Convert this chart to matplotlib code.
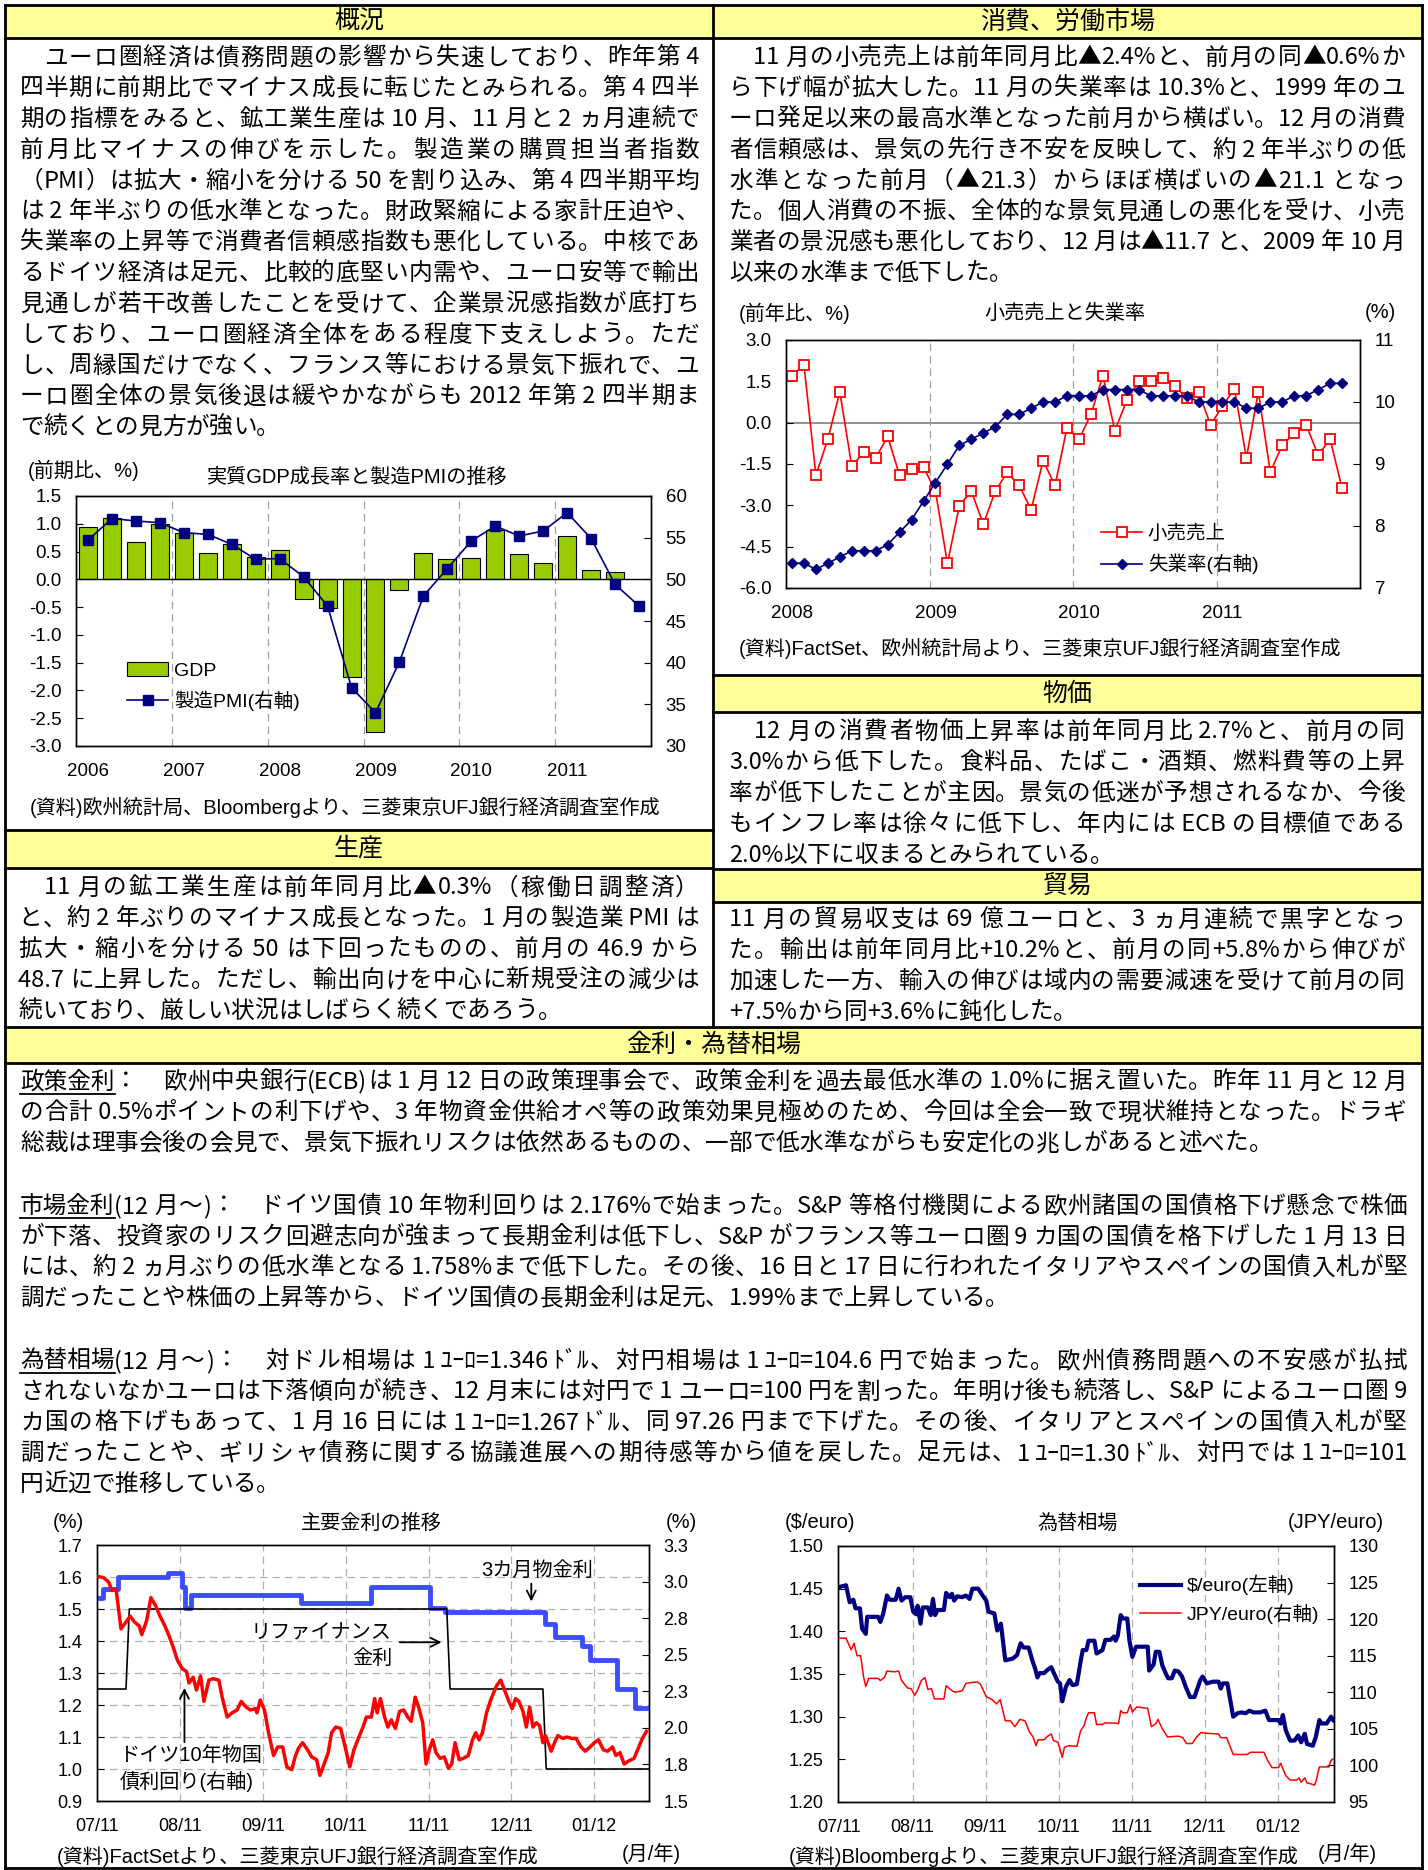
import matplotlib
matplotlib.use('Agg')
import matplotlib.pyplot as plt
import numpy as np
from matplotlib.transforms import Affine2D
from matplotlib.lines import Line2D
from matplotlib.patches import Rectangle, Patch

plt.rcParams['font.family'] = ['Liberation Sans', 'Noto Sans CJK JP']
plt.rcParams['axes.unicode_minus'] = False

W, H = 1428, 1870
JP = ['Noto Sans CJK JP', 'DejaVu Sans']
BODY = 17
CHART_TXT = 14.5

# ---------------- data ----------------
# real GDP q/q (%) and manufacturing PMI, quarterly 2006Q1-2011Q4
gdp_years = ['2006', '2007', '2008', '2009', '2010', '2011']
gdp = [0.94, 1.10, 0.68, 0.99, 0.83, 0.47, 0.63, 0.40, 0.52, -0.36, -0.52, -1.76,
       -2.74, -0.20, 0.47, 0.37, 0.39, 0.88, 0.45, 0.29, 0.78, 0.16, 0.13]
pmi = [54.7, 57.3, 57.0, 56.8, 55.6, 55.4, 54.2, 52.4, 52.5, 50.3, 46.8, 37.0,
       34.0, 40.1, 48.0, 51.3, 54.6, 56.4, 55.2, 55.8, 58.0, 54.9, 49.4, 46.8]

# retail sales y/y (%) and unemployment rate (%), monthly Jan 2008 - Nov 2011
ret_years = ['2008', '2009', '2010', '2011']
retail = [1.70, 2.11, -1.91, -0.60, 1.12, -1.59, -1.07, -1.28, -0.50, -1.91, -1.69, -1.61,
          -2.49, -5.11, -3.01, -2.49, -3.68, -2.49, -1.80, -2.28, -3.16, -1.38, -2.28, -0.18,
          -0.60, 0.30, 1.70, -0.29, 0.81, 1.50, 1.50, 1.61, 1.33, 0.89, 1.12, -0.08,
          0.60, 1.23, -1.28, 1.12, -1.80, -0.81, -0.39, -0.08, -1.18, -0.60, -2.38]
unemp = [7.4, 7.4, 7.3, 7.4, 7.5, 7.6, 7.6, 7.6, 7.7, 7.9, 8.1, 8.4,
         8.7, 9.0, 9.3, 9.4, 9.5, 9.6, 9.8, 9.8, 9.9, 10.0, 10.0, 10.1,
         10.1, 10.1, 10.2, 10.2, 10.2, 10.2, 10.1, 10.1, 10.1, 10.1, 10.0, 10.0,
         10.0, 10.0, 9.9, 9.9, 10.0, 10.0, 10.1, 10.1, 10.2, 10.3, 10.3]

# daily series, x = months elapsed since 1 Jul 2011
month_labels = ['07/11', '08/11', '09/11', '10/11', '11/11', '12/11', '01/12']
rate_end = 6.66
m3_x = [0.00, 0.07, 0.25, 0.86, 1.03, 1.06, 1.13, 2.46, 3.31, 4.02, 4.20, 5.40,
        5.53, 5.85, 5.95, 6.27, 6.49, 6.66]
m3_v = [1.533, 1.563, 1.601, 1.611, 1.57, 1.502, 1.544, 1.52, 1.57, 1.502, 1.49, 1.452,
        1.411, 1.385, 1.34, 1.25, 1.19, 1.19]
refi_x = [0.00, 0.35, 0.39, 4.22, 4.26, 5.38, 5.42, 6.66]
refi_v = [1.25, 1.25, 1.50, 1.50, 1.25, 1.25, 1.00, 1.00]
bund_x = [0.00, 0.08, 0.14, 0.18, 0.23, 0.29, 0.34, 0.40, 0.45, 0.51,
          0.54, 0.60, 0.65, 0.71, 0.76, 0.82, 0.87, 0.92, 0.97, 1.03,
          1.08, 1.11, 1.16, 1.20, 1.25, 1.29, 1.35, 1.40, 1.47, 1.51,
          1.57, 1.63, 1.69, 1.74, 1.80, 1.85, 1.91, 1.93, 1.97, 2.02,
          2.07, 2.13, 2.18, 2.24, 2.29, 2.35, 2.39, 2.43, 2.48, 2.54,
          2.59, 2.65, 2.69, 2.74, 2.79, 2.83, 2.88, 2.94, 2.99, 3.05,
          3.10, 3.16, 3.21, 3.25, 3.31, 3.35, 3.38, 3.42, 3.47, 3.51,
          3.55, 3.60, 3.65, 3.70, 3.75, 3.79, 3.84, 3.88, 3.93, 3.97,
          4.01, 4.05, 4.09, 4.14, 4.19, 4.24, 4.28, 4.32, 4.37, 4.42,
          4.48, 4.53, 4.57, 4.61, 4.65, 4.70, 4.75, 4.82, 4.87, 4.93,
          4.97, 5.01, 5.05, 5.09, 5.14, 5.18, 5.22, 5.26, 5.30, 5.34,
          5.38, 5.41, 5.48, 5.52, 5.56, 5.62, 5.67, 5.73, 5.78, 5.84,
          5.89, 5.95, 6.00, 6.05, 6.11, 6.16, 6.22, 6.26, 6.31, 6.36,
          6.41, 6.48, 6.53, 6.58, 6.63]
bund_v = [3.08, 3.07, 3.04, 2.98, 2.99, 2.71, 2.75, 2.80, 2.76, 2.73,
          2.67, 2.77, 2.93, 2.87, 2.80, 2.73, 2.66, 2.58, 2.49, 2.43,
          2.41, 2.33, 2.37, 2.28, 2.38, 2.20, 2.35, 2.36, 2.35, 2.23,
          2.09, 2.12, 2.14, 2.20, 2.16, 2.14, 2.15, 2.12, 2.21, 2.14,
          1.98, 1.82, 1.88, 1.88, 1.74, 1.72, 1.81, 1.87, 1.91, 1.86,
          1.81, 1.79, 1.68, 1.76, 1.84, 1.98, 2.02, 2.01, 1.89, 1.74,
          1.86, 1.95, 2.02, 2.09, 2.09, 2.22, 2.12, 2.22, 2.09, 2.02,
          2.07, 2.01, 2.13, 2.14, 2.09, 2.06, 2.23, 2.16, 2.05, 1.76,
          1.86, 1.93, 1.84, 1.80, 1.81, 1.73, 1.76, 1.91, 1.79, 1.80,
          1.82, 1.93, 1.98, 1.93, 1.98, 2.12, 2.21, 2.31, 2.35, 2.26,
          2.20, 2.15, 2.22, 2.20, 2.13, 2.02, 2.16, 2.02, 2.05, 2.03,
          1.91, 1.96, 1.85, 1.91, 1.96, 1.94, 1.95, 1.94, 1.94, 1.88,
          1.85, 1.88, 1.91, 1.93, 1.86, 1.85, 1.88, 1.82, 1.84, 1.76,
          1.78, 1.80, 1.87, 1.94, 1.99]

fx_end = 6.77
usd_x = [0.00, 0.09, 0.14, 0.19, 0.22, 0.28, 0.31, 0.36, 0.38, 0.53,
         0.56, 0.60, 0.65, 0.69, 0.77, 0.81, 0.85, 0.90, 0.97, 1.01,
         1.05, 1.07, 1.11, 1.14, 1.21, 1.25, 1.28, 1.31, 1.34, 1.43,
         1.46, 1.51, 1.54, 1.57, 1.61, 1.68, 1.73, 1.78, 1.82, 1.90,
         1.96, 2.01, 2.04, 2.12, 2.16, 2.21, 2.27, 2.37, 2.43, 2.48,
         2.52, 2.59, 2.64, 2.68, 2.71, 2.74, 2.80, 2.85, 2.90, 2.93,
         2.99, 3.02, 3.05, 3.10, 3.15, 3.19, 3.25, 3.30, 3.33, 3.38,
         3.41, 3.49, 3.52, 3.60, 3.64, 3.71, 3.76, 3.78, 3.81, 3.85,
         3.88, 3.94, 3.97, 4.01, 4.06, 4.22, 4.24, 4.30, 4.33, 4.38,
         4.42, 4.47, 4.50, 4.55, 4.59, 4.64, 4.69, 4.74, 4.80, 4.86,
         4.94, 4.97, 5.03, 5.11, 5.19, 5.22, 5.25, 5.31, 5.39, 5.45,
         5.50, 5.56, 5.61, 5.67, 5.76, 5.83, 5.88, 6.01, 6.04, 6.07,
         6.11, 6.17, 6.23, 6.28, 6.32, 6.37, 6.40, 6.48, 6.52, 6.57,
         6.60, 6.67, 6.73, 6.76]
usd_v = [1.452, 1.454, 1.434, 1.437, 1.427, 1.427, 1.403, 1.397, 1.417, 1.417,
         1.411, 1.421, 1.442, 1.437, 1.437, 1.450, 1.436, 1.440, 1.440, 1.423,
         1.420, 1.430, 1.409, 1.428, 1.428, 1.419, 1.438, 1.419, 1.425, 1.425,
         1.445, 1.440, 1.444, 1.436, 1.441, 1.440, 1.442, 1.438, 1.450, 1.450,
         1.442, 1.436, 1.423, 1.421, 1.401, 1.409, 1.366, 1.368, 1.372, 1.386,
         1.381, 1.381, 1.366, 1.356, 1.346, 1.351, 1.351, 1.355, 1.358, 1.352,
         1.341, 1.339, 1.318, 1.335, 1.343, 1.337, 1.338, 1.364, 1.378, 1.378,
         1.389, 1.389, 1.374, 1.378, 1.390, 1.390, 1.394, 1.389, 1.395, 1.419,
         1.415, 1.415, 1.389, 1.370, 1.382, 1.382, 1.354, 1.361, 1.376, 1.376,
         1.360, 1.350, 1.345, 1.345, 1.354, 1.353, 1.347, 1.335, 1.323, 1.323,
         1.343, 1.347, 1.339, 1.341, 1.341, 1.333, 1.339, 1.339, 1.300, 1.304,
         1.305, 1.304, 1.307, 1.305, 1.305, 1.307, 1.296, 1.296, 1.292, 1.302,
         1.284, 1.272, 1.272, 1.278, 1.270, 1.280, 1.268, 1.266, 1.276, 1.296,
         1.292, 1.292, 1.300, 1.296]
jpy_x = [0.00, 0.09, 0.16, 0.20, 0.24, 0.29, 0.33, 0.36, 0.40, 0.53,
         0.56, 0.62, 0.65, 0.75, 0.81, 0.85, 0.93, 0.98, 1.03, 1.07,
         1.12, 1.17, 1.21, 1.26, 1.30, 1.43, 1.46, 1.53, 1.58, 1.68,
         1.73, 1.78, 1.89, 1.93, 2.01, 2.09, 2.15, 2.20, 2.27, 2.34,
         2.40, 2.43, 2.47, 2.54, 2.60, 2.65, 2.69, 2.72, 2.80, 2.85,
         2.90, 2.93, 2.99, 3.02, 3.05, 3.08, 3.15, 3.25, 3.30, 3.35,
         3.38, 3.41, 3.49, 3.52, 3.60, 3.63, 3.77, 3.82, 3.85, 3.88,
         3.94, 3.98, 4.01, 4.07, 4.22, 4.27, 4.33, 4.36, 4.42, 4.49,
         4.64, 4.70, 4.75, 4.83, 4.89, 4.95, 5.02, 5.19, 5.22, 5.30,
         5.39, 5.58, 5.63, 5.81, 5.86, 5.92, 6.01, 6.04, 6.11, 6.17,
         6.26, 6.29, 6.32, 6.37, 6.40, 6.45, 6.50, 6.52, 6.57, 6.64,
         6.70, 6.73, 6.76]
jpy_v = [117.4, 117.4, 115.8, 116.7, 115.0, 115.0, 112.1, 110.8, 111.9, 111.9,
         111.6, 112.1, 112.9, 112.8, 112.9, 111.6, 110.6, 110.5, 109.6, 110.3,
         111.6, 112.0, 110.4, 110.5, 109.1, 109.1, 110.9, 110.3, 110.0, 110.2,
         111.2, 111.3, 111.4, 111.1, 109.4, 109.0, 108.4, 109.0, 106.1, 106.1,
         105.3, 105.7, 106.3, 106.1, 104.6, 103.9, 102.7, 103.5, 103.5, 104.0,
         104.3, 103.4, 103.2, 102.2, 101.1, 102.5, 102.7, 102.6, 104.7, 105.5,
         106.5, 107.2, 107.2, 105.6, 105.6, 105.8, 105.8, 105.7, 107.5, 107.2,
         107.2, 108.3, 107.3, 108.0, 107.8, 105.3, 105.7, 106.3, 105.0, 103.9,
         104.0, 103.8, 103.0, 103.0, 103.9, 104.5, 104.4, 104.3, 103.8, 103.8,
         101.5, 101.5, 101.8, 101.8, 100.7, 99.7, 99.7, 100.3, 98.6, 98.0,
         98.0, 98.3, 97.7, 98.3, 97.6, 97.5, 97.3, 97.7, 99.8, 99.8,
         99.8, 100.7, 100.9]

# ---------------- text ----------------
txt_gaikyo = [
    '\u3000ユーロ圏経済は債務問題の影響から失速しており、昨年第 4',
    '四半期に前期比でマイナス成長に転じたとみられる。第 4 四半',
    '期の指標をみると、鉱工業生産は 10 月、11 月と 2 ヵ月連続で',
    '前月比マイナスの伸びを示した。製造業の購買担当者指数',
    '（PMI）は拡大・縮小を分ける 50 を割り込み、第 4 四半期平均',
    'は 2 年半ぶりの低水準となった。財政緊縮による家計圧迫や、',
    '失業率の上昇等で消費者信頼感指数も悪化している。中核であ',
    'るドイツ経済は足元、比較的底堅い内需や、ユーロ安等で輸出',
    '見通しが若干改善したことを受けて、企業景況感指数が底打ち',
    'しており、ユーロ圏経済全体をある程度下支えしよう。ただ',
    'し、周縁国だけでなく、フランス等における景気下振れで、ユ',
    'ーロ圏全体の景気後退は緩やかながらも 2012 年第 2 四半期ま',
    'で続くとの見方が強い。',
]
txt_shohi = [
    '\u300011 月の小売売上は前年同月比▲2.4%と、前月の同▲0.6%か',
    'ら下げ幅が拡大した。11 月の失業率は 10.3%と、1999 年のユ',
    'ーロ発足以来の最高水準となった前月から横ばい。12 月の消費',
    '者信頼感は、景気の先行き不安を反映して、約 2 年半ぶりの低',
    '水準となった前月（▲21.3）からほぼ横ばいの▲21.1 となっ',
    'た。個人消費の不振、全体的な景気見通しの悪化を受け、小売',
    '業者の景況感も悪化しており、12 月は▲11.7 と、2009 年 10 月',
    '以来の水準まで低下した。',
]
txt_seisan = [
    '\u300011 月の鉱工業生産は前年同月比▲0.3%（稼働日調整済）',
    'と、約 2 年ぶりのマイナス成長となった。1 月の製造業 PMI は',
    '拡大・縮小を分ける 50 は下回ったものの、前月の 46.9 から',
    '48.7 に上昇した。ただし、輸出向けを中心に新規受注の減少は',
    '続いており、厳しい状況はしばらく続くであろう。',
]
txt_bukka = [
    '\u300012 月の消費者物価上昇率は前年同月比 2.7%と、前月の同',
    '3.0%から低下した。食料品、たばこ・酒類、燃料費等の上昇',
    '率が低下したことが主因。景気の低迷が予想されるなか、今後',
    'もインフレ率は徐々に低下し、年内には ECB の目標値である',
    '2.0%以下に収まるとみられている。',
]
txt_boeki = [
    '11 月の貿易収支は 69 億ユーロと、3 ヵ月連続で黒字となっ',
    'た。輸出は前年同月比+10.2%と、前月の同+5.8%から伸びが',
    '加速した一方、輸入の伸びは域内の需要減速を受けて前月の同',
    '+7.5%から同+3.6%に鈍化した。',
]
txt_kinri = [
    ('政策金利', [
        '：\u3000欧州中央銀行(ECB)は 1 月 12 日の政策理事会で、政策金利を過去最低水準の 1.0%に据え置いた。昨年 11 月と 12 月',
        'の合計 0.5%ポイントの利下げや、3 年物資金供給オペ等の政策効果見極めのため、今回は全会一致で現状維持となった。ドラギ',
        '総裁は理事会後の会見で、景気下振れリスクは依然あるものの、一部で低水準ながらも安定化の兆しがあると述べた。',
    ]),
    ('市場金利', [
        '(12 月～)：\u3000ドイツ国債 10 年物利回りは 2.176%で始まった。S&P 等格付機関による欧州諸国の国債格下げ懸念で株価',
        'が下落、投資家のリスク回避志向が強まって長期金利は低下し、S&P がフランス等ユーロ圏 9 カ国の国債を格下げした 1 月 13 日',
        'には、約 2 ヵ月ぶりの低水準となる 1.758%まで低下した。その後、16 日と 17 日に行われたイタリアやスペインの国債入札が堅',
        '調だったことや株価の上昇等から、ドイツ国債の長期金利は足元、1.99%まで上昇している。',
    ]),
    ('為替相場', [
        '(12 月～)：\u3000対ドル相場は 1 ﾕｰﾛ=1.346 ﾄﾞﾙ、対円相場は 1 ﾕｰﾛ=104.6 円で始まった。欧州債務問題への不安感が払拭',
        'されないなかユーロは下落傾向が続き、12 月末には対円で 1 ユーロ=100 円を割った。年明け後も続落し、S&P によるユーロ圏 9',
        'カ国の格下げもあって、1 月 16 日には 1 ﾕｰﾛ=1.267 ﾄﾞﾙ、同 97.26 円まで下げた。その後、イタリアとスペインの国債入札が堅',
        '調だったことや、ギリシャ債務に関する協議進展への期待感等から値を戻した。足元は、1 ﾕｰﾛ=1.30 ﾄﾞﾙ、対円では 1 ﾕｰﾛ=101',
        '円近辺で推移している。',
    ]),
]

# ---------------- page ----------------
fig = plt.figure(figsize=(W / 100, H / 100), dpi=100)
fig.patch.set_facecolor('white')
PX = Affine2D().scale(1 / W, -1 / H).translate(0, 1) + fig.transFigure
renderer = fig.canvas.get_renderer()


def seg(x0, y0, x1, y1, lw=2.0):
    fig.add_artist(Line2D([x0, x1], [y0, y1], transform=PX, color='black', lw=lw,
                          solid_capstyle='projecting', zorder=5))


def header(x0, x1, y0, y1, title):
    fig.add_artist(Rectangle((x0, y0), x1 - x0, y1 - y0, transform=PX,
                             facecolor='#FFFF99', edgecolor='none', zorder=1))
    fig.text((x0 + x1) / 2, (y0 + y1) / 2, title, transform=PX, ha='center',
             va='center', fontsize=18, family=JP)


def split_tokens(s):
    # one token per full-width character, runs of narrow characters kept together
    out = []
    for ch in s:
        narrow = ord(ch) < 128 or 0xFF61 <= ord(ch) <= 0xFF9F
        if narrow and out and out[-1][1]:
            out[-1][0] += ch
        else:
            out.append([ch, narrow])
    return [t for t, _ in out]


def line(x0, y, s, x1, justify=True, size=BODY):
    toks = split_tokens(s)
    objs, ws = [], []
    for t in toks:
        o = fig.text(x0, y, t, transform=PX, ha='left', va='center', fontsize=size, family=JP)
        if t.strip() == '':
            w = size * 100 / 72 * (1.0 if '\u3000' in t else 0.25 * len(t))
        else:
            w = o.get_window_extent(renderer).width
        objs.append(o)
        ws.append(w)
    nat = sum(ws)
    gap = 0.0
    if len(toks) > 1 and (justify or nat > x1 - x0):
        gap = (x1 - x0 - nat) / (len(toks) - 1)
    x = x0
    for o, w in zip(objs, ws):
        o.set_x(x)
        x += w + gap
    return x0 + nat


def body(lines, x, y0, xmax, step=30.8):
    for i, s in enumerate(lines):
        line(x, y0 + i * step, s, xmax, justify=(i < len(lines) - 1))


def ptext(x, y, s, size=CHART_TXT, **kw):
    fig.text(x, y, s, transform=PX, va='center', fontsize=size, **kw)


def axes_px(x0, y0, x1, y1):
    return fig.add_axes([x0 / W, 1 - y1 / H, (x1 - x0) / W, (y1 - y0) / H])


# frame
for y0, y1, x0, x1, t in [(5, 38, 5, 713, '概況'), (5, 38, 713, 1422, '消費、労働市場'),
                           (830, 868, 5, 713, '生産'), (675, 712, 713, 1422, '物価'),
                           (869, 902, 713, 1422, '貿易'), (1027, 1063, 5, 1422, '金利・為替相場')]:
    header(x0, x1, y0, y1, t)
seg(5, 5, 1422, 5)
seg(5, 1868, 1422, 1868)
seg(5, 5, 5, 1868)
seg(1422, 5, 1422, 1868)
seg(713, 5, 713, 1027)
seg(5, 38, 1422, 38)
seg(5, 830, 713, 830)
seg(5, 868, 713, 868)
seg(713, 675, 1422, 675)
seg(713, 712, 1422, 712)
seg(713, 869, 1422, 869)
seg(713, 902, 1422, 902)
seg(5, 1027, 1422, 1027)
seg(5, 1063, 1422, 1063)

body(txt_gaikyo, 20, 58, 699)
body(txt_shohi, 729, 58, 1405)
body(txt_seisan, 18, 888, 699)
body(txt_bukka, 729, 732, 1405)
body(txt_boeki, 729, 920, 1405)

y = 1082
for label, lines in txt_kinri:
    t = fig.text(20, y, label, transform=PX, ha='left', va='center', fontsize=BODY, family=JP)
    x_end = t.get_window_extent(renderer).x1
    seg(20, y + 12, x_end, y + 12, lw=1.3)
    line(x_end, y, lines[0], 1407, justify=len(lines) > 1)
    for k, s in enumerate(lines[1:], start=1):
        line(20, y + k * 30.8, s, 1407, justify=(k < len(lines) - 1))
    y += (len(lines) + 1) * 30.8 + 1


def style_y(ax, size):
    ax.tick_params(axis='y', direction='in', length=5, width=0.8, pad=10.5, labelsize=size)
    for sp in ax.spines.values():
        sp.set_linewidth(1.0)


# ---- chart 1: GDP and PMI ----
ax = axes_px(76, 496, 651, 746)
q = np.arange(len(pmi))
ax.bar(np.arange(len(gdp)), gdp, width=0.75, color='#99CC00', edgecolor='black',
       linewidth=0.8, zorder=3)
ax.axhline(0, color='black', lw=1.0, zorder=4)
for v in np.arange(3.5, len(pmi) - 1, 4):
    ax.axvline(v, color='#A0A0A0', ls=(0, (6, 4)), lw=0.9, zorder=1)
ax.set_xlim(-0.5, len(pmi) - 0.5)
ax.set_ylim(-3, 1.5)
yt = np.arange(-3, 1.51, 0.5)
ax.set_yticks(yt)
ax.set_yticklabels([f'{v:.1f}' for v in yt])
ax.set_xticks(q[::4])
ax.set_xticklabels(gdp_years)
ax.tick_params(axis='x', length=0, pad=12, labelsize=13.5)
style_y(ax, 13.5)
axr = ax.twinx()
axr.plot(q, pmi, color='#000080', lw=1.2, marker='s', ms=6.5, zorder=5)
axr.set_ylim(30, 60)
axr.set_yticks(range(30, 61, 5))
style_y(axr, 13.5)
axr.legend([Patch(facecolor='#99CC00', edgecolor='black', linewidth=0.8),
            Line2D([], [], color='#000080', lw=1.2, marker='s', ms=6.5)],
           ['GDP', '製造PMI(右軸)'], loc='upper left', bbox_to_anchor=(0.089, 0.335),
           frameon=False, fontsize=14, handlelength=2.1, labelspacing=0.55,
           borderpad=0, borderaxespad=0, handletextpad=0.3)
ptext(28, 470, '(前期比、%)', ha='left')
ptext(357, 477, '実質GDP成長率と製造PMIの推移', ha='center')
ptext(30, 807, '(資料)欧州統計局、Bloombergより、三菱東京UFJ銀行経済調査室作成', ha='left')

# ---- chart 2: retail sales and unemployment ----
ax = axes_px(786, 340, 1360, 588)
mx = np.arange(len(retail)) + 0.5
ax.axhline(0, color='#808080', lw=1.2, zorder=1)
for v in (12, 24, 36):
    ax.axvline(v, color='#A0A0A0', ls=(0, (6, 4)), lw=0.9, zorder=1)
ax.plot(mx, retail, color='#FF0000', lw=1.2, marker='s', ms=7, mfc='white', mec='#FF0000',
        mew=1.3, zorder=3)
ax.set_xlim(0, 48)
ax.set_ylim(-6, 3)
yt = np.arange(-6, 3.01, 1.5)
ax.set_yticks(yt)
ax.set_yticklabels([f'{v:.1f}' for v in yt])
ax.set_xticks([0.5, 12.5, 24.5, 36.5])
ax.set_xticklabels(ret_years)
ax.tick_params(axis='x', length=0, pad=12, labelsize=13.5)
style_y(ax, 13.5)
axr = ax.twinx()
axr.plot(mx, unemp, color='#000080', lw=1.2, marker='D', ms=5.5, zorder=3)
axr.set_ylim(7, 11)
axr.set_yticks(range(7, 12))
style_y(axr, 13.5)
axr.legend([Line2D([], [], color='#FF0000', lw=1.2, marker='s', ms=7, mfc='white', mew=1.3),
            Line2D([], [], color='#000080', lw=1.2, marker='D', ms=5.5)],
           ['小売売上', '失業率(右軸)'], loc='upper left', bbox_to_anchor=(0.549, 0.254),
           frameon=False, fontsize=14, handlelength=2.1, labelspacing=0.55,
           borderpad=0, borderaxespad=0, handletextpad=0.3)
ptext(739, 313, '(前年比、%)', ha='left')
ptext(1065, 313, '小売売上と失業率', ha='center')
ptext(1396, 313, '(%)', ha='right')
ptext(739, 648, '(資料)FactSet、欧州統計局より、三菱東京UFJ銀行経済調査室作成', ha='left')

# ---- chart 3: interest rates ----
ax = axes_px(97, 1545, 649, 1801)
yt = np.round(np.arange(0.9, 1.701, 0.1), 1)
for v in yt[1:-1]:
    ax.axhline(v, color='#B0B0B0', ls=(0, (6, 4)), lw=0.9, zorder=1)
for v in range(1, len(month_labels)):
    ax.axvline(v, color='#B0B0B0', ls=(0, (6, 4)), lw=0.9, zorder=1)
ax.plot(m3_x, m3_v, drawstyle='steps-post', color='#3A4DFF', lw=3.5, zorder=3)
ax.plot(refi_x, refi_v, color='black', lw=1.2, zorder=3)
ax.set_xlim(0, rate_end)
ax.set_ylim(0.9, 1.7)
ax.set_yticks(yt)
ax.set_yticklabels([f'{v:.1f}' for v in yt])
ax.set_xticks(range(len(month_labels)))
ax.set_xticklabels(month_labels)
ax.tick_params(axis='x', length=0, pad=12, labelsize=13)
style_y(ax, 13)
axr = ax.twinx()
axr.plot(bund_x, bund_v, color='#FF0000', lw=2.5, zorder=3)
axr.set_ylim(1.5, 3.3)
rt = np.linspace(1.5, 3.3, 8)
axr.set_yticks(rt)
axr.set_yticklabels([f'{v:.1f}' for v in rt])
style_y(axr, 13)
tr = ax.transData
arr = dict(arrowstyle='->', color='black', lw=1.3, mutation_scale=16)
axr.annotate('', xy=(5.24, 1.515), xytext=(5.24, 1.588), xycoords=tr, textcoords=tr, arrowprops=arr)
axr.text(5.31, 1.622, '3カ月物金利', transform=tr, ha='center', va='center', fontsize=CHART_TXT)
axr.annotate('', xy=(4.19, 1.396), xytext=(3.62, 1.396), xycoords=tr, textcoords=tr, arrowprops=arr)
axr.text(3.55, 1.424, 'リファイナンス', transform=tr, ha='right', va='center', fontsize=CHART_TXT)
axr.text(3.32, 1.346, '金利', transform=tr, ha='center', va='center', fontsize=CHART_TXT)
axr.annotate('', xy=(1.055, 1.262), xytext=(1.055, 1.075), xycoords=tr, textcoords=tr, arrowprops=arr)
axr.text(0.27, 1.041, 'ドイツ10年物国', transform=tr, ha='left', va='center', fontsize=CHART_TXT)
axr.text(0.27, 0.960, '債利回り(右軸)', transform=tr, ha='left', va='center', fontsize=CHART_TXT)
ptext(68, 1523, '(%)', ha='center')
ptext(371, 1523, '主要金利の推移', ha='center')
ptext(681, 1523, '(%)', ha='center')
ptext(57, 1856, '(資料)FactSetより、三菱東京UFJ銀行経済調査室作成', ha='left')
ptext(651, 1854, '(月/年)', ha='center')

# ---- chart 4: exchange rates ----
ax = axes_px(838, 1546, 1334, 1802)
for v in range(1, len(month_labels)):
    ax.axvline(v, color='#B0B0B0', ls=(0, (6, 4)), lw=0.9, zorder=1)
ax.plot(usd_x, usd_v, color='#000080', lw=3.0, zorder=3)
ax.set_xlim(-0.02, fx_end)
ax.set_ylim(1.2, 1.5)
yt = np.arange(1.2, 1.501, 0.05)
ax.set_yticks(yt)
ax.set_yticklabels([f'{v:.2f}' for v in yt])
ax.set_xticks(range(len(month_labels)))
ax.set_xticklabels(month_labels)
ax.tick_params(axis='x', length=0, pad=12, labelsize=13)
style_y(ax, 13)
axr = ax.twinx()
axr.plot(jpy_x, jpy_v, color='#FF0000', lw=1.1, zorder=3)
axr.set_ylim(95, 130)
axr.set_yticks(range(95, 131, 5))
style_y(axr, 13)
axr.legend([Line2D([], [], color='#000080', lw=3.0), Line2D([], [], color='#FF0000', lw=1.1)],
           ['$/euro(左軸)', 'JPY/euro(右軸)'], loc='upper left', bbox_to_anchor=(0.609, 0.887),
           frameon=False, fontsize=14, handlelength=2.1, labelspacing=0.45,
           borderpad=0, borderaxespad=0, handletextpad=0.3)
ptext(820, 1523, '($/euro)', ha='center')
ptext(1078, 1523, '為替相場', ha='center')
ptext(1336, 1523, '(JPY/euro)', ha='center')
ptext(789, 1856, '(資料)Bloombergより、三菱東京UFJ銀行経済調査室作成', ha='left')
ptext(1347, 1854, '(月/年)', ha='center')

fig.savefig('out.png', dpi=100, facecolor='white')
